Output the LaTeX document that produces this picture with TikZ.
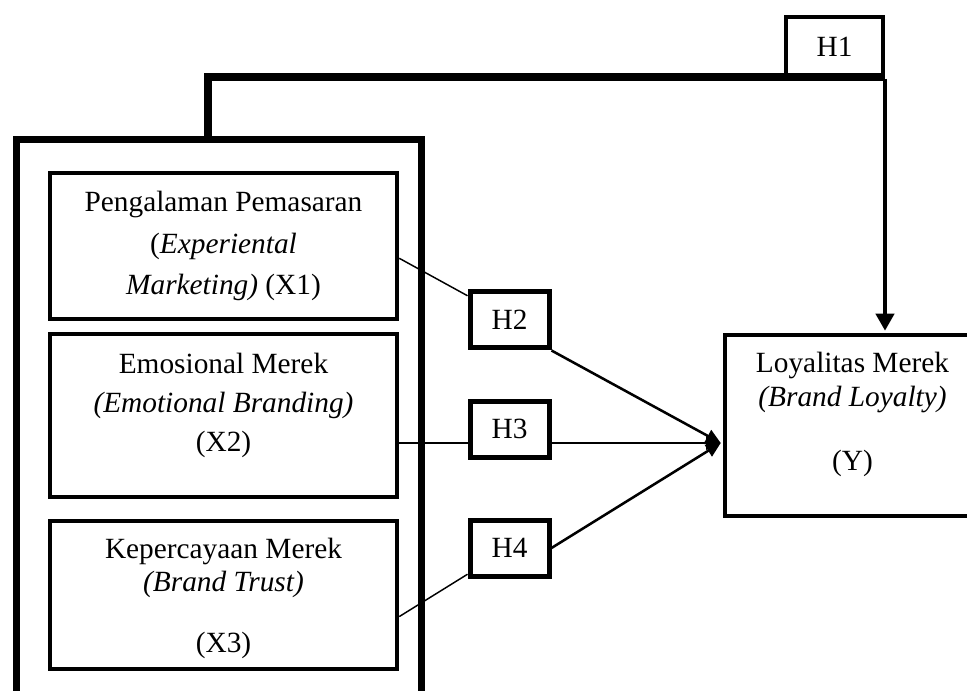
\documentclass[tikz,border=0pt]{standalone}
\usepackage{fontspec}
\setmainfont{Liberation Serif}
\usetikzlibrary{arrows.meta,calc}

\tikzset{
  varbox/.style={draw, line width=3.4pt, align=center, minimum width=260.25pt, inner sep=2pt, font=\fontsize{22}{25}\selectfont},
  hbox/.style={draw, line width=3.75pt, minimum width=59.25pt, minimum height=42pt, inner sep=0pt, font=\fontsize{22}{25}\selectfont},
  inline/.style={line width=1.1pt},
  outline/.style={line width=1.9pt, -{Triangle[length=11pt,width=10pt]}},
}

\begin{document}
\begin{tikzpicture}[x=0.75pt,y=0.75pt,yscale=-1,xscale=1]
\useasboundingbox (0,0) rectangle (967,691);
\clip (0,0) rectangle (967,691);

%Shape: Rectangle [outer frame, runs past the bottom]
\node [draw, line width=5.25pt, minimum width=303.4pt, minimum height=435pt, inner sep=0pt] (grp) at (218.75,430) {};

%Shape: Rectangle [variables X1, X2, X3]
\node [varbox, minimum height=109.5pt] (x1) at (223.5,246) {Pengalaman Pemasaran\\[6pt](\textit{Experiental}\\[6pt]\textit{Marketing)} (X1)};
\node [varbox, minimum height=122.25pt, text depth=19.75pt] (x2) at (223.5,415.5) {Emosional Merek\\[4pt]\textit{(Emotional Branding)}\\[4pt](X2)};
\node [varbox, minimum height=111pt, text depth=0pt] (x3) at (223.5,595) {Kepercayaan Merek\\\textit{(Brand Trust)}\\[20.75pt](X3)};

%Shape: Rectangle [variable Y]
\node [varbox, minimum width=191.25pt, minimum height=135.75pt, text depth=21.25pt] (yb) at (852.5,425.5) {Loyalitas Merek\\\textit{(Brand Loyalty)}\\[23pt](Y)};

%Shape: Rectangle [hypotheses]
\node [hbox] (h2) at (509.5,320) {H2};
\node [hbox] (h3) at (509.5,429) {H3};
\node [hbox] (h4) at (509.5,548) {H4};
\node [hbox, line width=3pt, minimum width=72.75pt, minimum height=45pt] (h1) at (834.5,47) {H1};

\coordinate (stub) at (208,77);
\coordinate (tip) at ($(yb.west)+(-2,17.5)$);

%Straight Lines [H1 path]
\draw [line width=5.6pt] (grp.north -| stub) -- (stub) -- (stub -| h1.south east);
\draw [line width=3pt, -{Triangle[length=12.75pt,width=13.5pt]}] (h1.south east) -- ($(yb.north -| h1.south east)+(0,-2)$);

%Straight Lines [H2, H3, H4]
\draw [inline] (x1.-4) -- (h2.150);
\draw [outline] (h2.south east) -- (tip);
\draw [inline] (x2.east |- tip) -- (h3.west |- tip);
\draw [outline] (h3.east |- tip) -- (tip);
\draw [inline] (x3.-7) -- (h4.212);
\draw [outline] (h4.east) -- (tip);

\end{tikzpicture}
\end{document}
